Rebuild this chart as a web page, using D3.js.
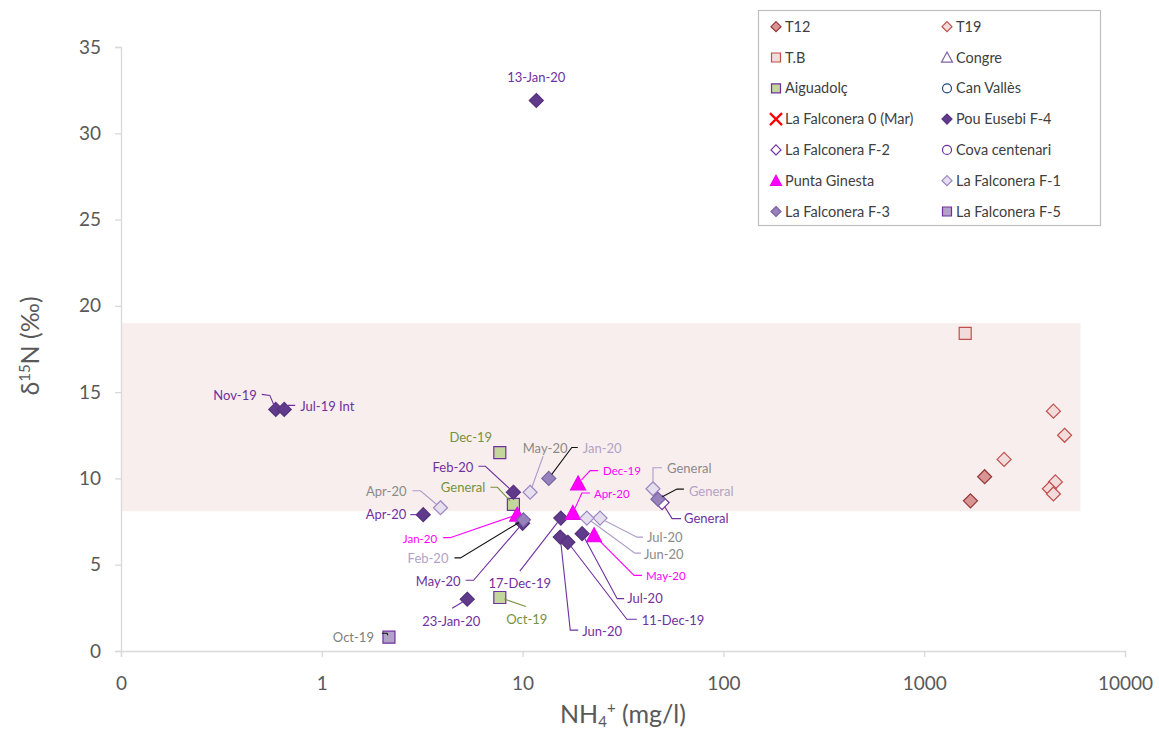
<!DOCTYPE html>
<html><head><meta charset="utf-8">
<script src="https://cdn.jsdelivr.net/npm/d3@7/dist/d3.min.js"></script>
<style>
body{margin:0;background:#fff}
svg text{font-family:Lato,"Open Sans","Liberation Sans",sans-serif}
</style>
</head><body>
<svg id="chart" width="1159" height="733"></svg>
<script>
// ---------- DATA ----------
const xTickValues = [0.1, 1, 10, 100, 1000, 10000];
const xTickLabels = ["0", "1", "10", "100", "1000", "10000"];
const yTickValues = [0, 5, 10, 15, 20, 25, 30, 35];

const bandX = [0.1, 6000];
const bandY = [8.1, 19];

const t12X = [1700, 2000];
const t12Y = [8.7, 10.1];

const t19X = [2500, 4400, 5000, 4500, 4200, 4400];
const t19Y = [11.1, 13.9, 12.5, 9.8, 9.4, 9.1];

const tbX = [1600];
const tbY = [18.4];

const aigX = [7.7, 9.0, 7.7];
const aigY = [11.5, 8.5, 3.1];
const aigLabels = ["Dec-19", "General", "Oct-19"];

const f4X = [11.7, 0.59, 0.65, 3.2, 9.0, 10.0, 5.3, 15.5, 15.4, 16.8, 19.8];
const f4Y = [31.9, 14.0, 14.0, 7.9, 9.2, 7.4, 3.0, 7.7, 6.6, 6.3, 6.8];
const f4Labels = ["13-Jan-20", "Nov-19", "Jul-19 Int", "Apr-20", "Feb-20", "May-20", "23-Jan-20", "17-Dec-19", "Jun-20", "11-Dec-19", "Jul-20"];

const f2X = [49.5];
const f2Y = [8.6];
const f2Labels = ["General"];

const pgX = [9.4, 18.9, 17.8, 22.7];
const pgY = [7.9, 9.7, 8.0, 6.7];
const pgLabels = ["Jan-20", "Dec-19", "Apr-20", "May-20"];

const f1X = [3.9, 10.9, 44.6, 24.3, 20.9];
const f1Y = [8.3, 9.2, 9.4, 7.7, 7.7];
const f1Labels = ["Apr-20", "May-20", "General", "Jul-20", "Jun-20"];

const f3X = [13.5, 10.1, 47.2];
const f3Y = [10.0, 7.6, 8.8];
const f3Labels = ["Jan-20", "Feb-20", "General"];

const f5X = [2.16];
const f5Y = [0.8];
const f5Labels = ["Oct-19"];

const legendNames = ["T12", "T19", "T.B", "Congre", "Aiguadolç", "Can Vallès",
  "La Falconera 0 (Mar)", "Pou Eusebi F-4", "La Falconera F-2", "Cova centenari",
  "Punta Ginesta", "La Falconera F-1", "La Falconera F-3", "La Falconera F-5"];

// ---------- STYLE / LAYOUT ----------
const styles = {
  "T12": {shape: "diamond", fill: "#d99594", stroke: "#953735"},
  "T19": {shape: "diamond", fill: "#f2dcdb", stroke: "#c0504d"},
  "T.B": {shape: "square", fill: "#f2dcdb", stroke: "#c0504d"},
  "Congre": {shape: "triangle", fill: "#ffffff", stroke: "#8064a2"},
  "Aiguadolç": {shape: "square", fill: "#c3d69b", stroke: "#7030a0"},
  "Can Vallès": {shape: "circle", fill: "#ffffff", stroke: "#1f497d"},
  "La Falconera 0 (Mar)": {shape: "x", fill: "none", stroke: "#ff0000"},
  "Pou Eusebi F-4": {shape: "diamond", fill: "#603b8b", stroke: "#55317e"},
  "La Falconera F-2": {shape: "diamond", fill: "#ffffff", stroke: "#7030a0"},
  "Cova centenari": {shape: "circle", fill: "#ffffff", stroke: "#7030a0"},
  "Punta Ginesta": {shape: "triangle", fill: "#ff00ff", stroke: "#ee00ee"},
  "La Falconera F-1": {shape: "diamond", fill: "#e6dff0", stroke: "#9c86c0"},
  "La Falconera F-3": {shape: "diamond", fill: "#9882bb", stroke: "#7b62a3"},
  "La Falconera F-5": {shape: "square", fill: "#b3a2c7", stroke: "#7030a0"}
};

const series = [
  {name: "T12", x: t12X, y: t12Y},
  {name: "T19", x: t19X, y: t19Y},
  {name: "T.B", x: tbX, y: tbY},
  {name: "Congre", x: [], y: []},
  {name: "Aiguadolç", x: aigX, y: aigY, labels: aigLabels, labelColor: "#76923c", lineColor: "#76923c", fs: 13},
  {name: "Can Vallès", x: [], y: []},
  {name: "La Falconera 0 (Mar)", x: [], y: []},
  {name: "Pou Eusebi F-4", x: f4X, y: f4Y, labels: f4Labels, labelColor: "#7030a0", lineColor: "#7030a0", fs: 13},
  {name: "La Falconera F-2", x: f2X, y: f2Y, labels: f2Labels, labelColor: "#7030a0", lineColor: "#7030a0", fs: 13},
  {name: "Cova centenari", x: [], y: []},
  {name: "Punta Ginesta", x: pgX, y: pgY, labels: pgLabels, labelColor: "#ff00ff", lineColor: "#ff00ff", fs: 11.5},
  {name: "La Falconera F-1", x: f1X, y: f1Y, labels: f1Labels, labelColor: "#8a8a8a", lineColor: "#ad9cc9", fs: 13},
  {name: "La Falconera F-3", x: f3X, y: f3Y, labels: f3Labels, labelColor: "#b3a2c7", lineColor: "#111111", fs: 13},
  {name: "La Falconera F-5", x: f5X, y: f5Y, labels: f5Labels, labelColor: "#808080", lineColor: "#111111", fs: 13}
];

// label placement (pixel offsets relative to the marker)
const labelLayout = {
  "Aiguadolç": [
    {dx: -29, dy: -15, a: "middle", l: []},
    {dx: -28, dy: -17, a: "end", l: [[-16, -17], [-23, -17]]},
    {dx: 27, dy: 22, a: "middle", l: [[26, 9]]}
  ],
  "Pou Eusebi F-4": [
    {dx: 0, dy: -23, a: "middle", l: []},
    {dx: -19, dy: -14, a: "end", l: [[-6, -14], [-14, -15]]},
    {dx: 16, dy: -3, a: "start", l: [[4, -4], [11, -4]]},
    {dx: -17, dy: 0, a: "end", l: [[-6, 0], [-13, 0]]},
    {dx: -40, dy: -25, a: "end", l: [[-28, -26], [-35, -26]]},
    {dx: -62, dy: 58, a: "end", l: [[-49, 57], [-57, 57]]},
    {dx: -16, dy: 22, a: "middle", l: [[-15, 9]]},
    {dx: -41, dy: 65, a: "middle", l: [[-41, 53]]},
    {dx: 22, dy: 94, a: "start", l: [[10, 93], [18, 93]]},
    {dx: 74, dy: 78, a: "start", l: [[59, 77], [69, 77]]},
    {dx: 45, dy: 65, a: "start", l: [[35, 65], [42, 65]]}
  ],
  "La Falconera F-2": [
    {dx: 22, dy: 16, a: "start", l: [[10, 16], [19, 16]]}
  ],
  "Punta Ginesta": [
    {dx: -80, dy: 24, a: "end", l: [[-67, 23], [-74, 23]]},
    {dx: 25, dy: -13, a: "start", l: [[12, -13], [20, -13]]},
    {dx: 21, dy: -19, a: "start", l: [[9, -20], [17, -20]]},
    {dx: 52, dy: 41, a: "start", l: [[40, 40], [48, 40]]}
  ],
  "La Falconera F-1": [
    {dx: -34, dy: -16, a: "end", l: [[-20, -17], [-28, -17]]},
    {dx: 15, dy: -44, a: "middle", l: [[13, -36]]},
    {dx: 14, dy: -20, a: "start", l: [[0, -21], [9, -21]]},
    {dx: 47, dy: 19, a: "start", l: [[37, 19], [43, 19]]},
    {dx: 57, dy: 36, a: "start", l: [[48, 35], [54, 35]]}
  ],
  "La Falconera F-3": [
    {dx: 34, dy: -30, a: "start", l: [[23, -31], [29, -31]]},
    {dx: -75, dy: 39, a: "end", l: [[-63, 38], [-69, 38]]},
    {dx: 31, dy: -8, a: "start", l: [[19, -10], [26, -10]]}
  ],
  "La Falconera F-5": [
    {dx: -15, dy: 0, a: "end", l: [[-2, -4], [-7, -4]]}
  ]
};

// ---------- DRAW ----------
const svg = d3.select("#chart");
const x = d3.scaleLog().domain([0.1, 10000]).range([121, 1125]);
const y = d3.scaleLinear().domain([0, 35]).range([651, 47]);

function shapePath(shape, s) {
  if (shape === "diamond") return `M0,${-s}L${s},0L0,${s}L${-s},0Z`;
  if (shape === "square") return `M${-s},${-s}H${s}V${s}H${-s}Z`;
  if (shape === "triangle") return `M0,${-s}L${s},${s*0.85}L${-s},${s*0.85}Z`;
  if (shape === "circle") return d3.arc()({innerRadius: 0, outerRadius: s, startAngle: 0, endAngle: 2 * Math.PI});
  if (shape === "x") return `M${-s},${-s}L${s},${s}M${s},${-s}L${-s},${s}`;
}
const markerSize = {diamond: 7, square: 6, triangle: 7.5, circle: 5, x: 6};
const legendSize = {diamond: 5, square: 4.5, triangle: 5.5, circle: 4.5, x: 6};

// band
svg.append("rect")
  .attr("x", x(bandX[0])).attr("y", y(bandY[1]))
  .attr("width", x(bandX[1]) - x(bandX[0]))
  .attr("height", y(bandY[0]) - y(bandY[1]))
  .attr("fill", "#f8eeee");

// axes
const axisColor = "#d9d9d9";
const tickText = "#595959";
const yAxis = d3.axisLeft(y).tickValues(yTickValues).tickSize(6).tickPadding(14);
const gy = svg.append("g").attr("transform", `translate(${x(0.1)},0)`).call(yAxis);
gy.select(".domain").attr("stroke", axisColor).attr("stroke-width", 1.3);
gy.selectAll(".tick line").attr("stroke", axisColor).attr("stroke-width", 1.3);
gy.selectAll(".tick text").attr("fill", tickText).style("font-size", "19px");

const xAxis = d3.axisBottom(x).tickValues(xTickValues)
  .tickFormat((d, i) => xTickLabels[i]).tickSize(6).tickPadding(20);
const gx = svg.append("g").attr("transform", `translate(0,${y(0)})`).call(xAxis);
gx.select(".domain").attr("stroke", axisColor).attr("stroke-width", 1.3);
gx.selectAll(".tick line").attr("stroke", axisColor).attr("stroke-width", 1.3);
gx.selectAll(".tick text").attr("fill", tickText).style("font-size", "19px");

// axis titles
const xt = svg.append("text").attr("x", 623).attr("y", 723)
  .attr("text-anchor", "middle").attr("fill", tickText).style("font-size", "25px");
xt.append("tspan").text("NH");
xt.append("tspan").text("4").style("font-size", "15px").attr("dy", 4);
xt.append("tspan").text("+").style("font-size", "15px").attr("dy", -14);
xt.append("tspan").text(" (mg/l)").attr("dy", 10);

const yt = svg.append("text").attr("transform", "translate(39,346) rotate(-90)")
  .attr("text-anchor", "middle").attr("fill", tickText).style("font-size", "25px");
yt.append("tspan").text("δ");
yt.append("tspan").text("15").style("font-size", "15px").attr("dy", -9);
yt.append("tspan").text("N (‰)").attr("dy", 9);

// markers
const gm = svg.append("g");
series.forEach(s => {
  const st = styles[s.name];
  s.x.forEach((xv, i) => {
    gm.append("path")
      .attr("d", shapePath(st.shape, markerSize[st.shape]))
      .attr("transform", `translate(${x(xv)},${y(s.y[i])})`)
      .attr("fill", st.fill).attr("stroke", st.stroke).attr("stroke-width", 1.2);
  });
});

// labels with leader lines
const gl = svg.append("g");
series.forEach(s => {
  if (!s.labels) return;
  const lay = labelLayout[s.name];
  s.labels.forEach((t, i) => {
    const px = x(s.x[i]), py = y(s.y[i]);
    const L = lay[i];
    if (L.l.length) {
      const pts = [[px, py]].concat(L.l.map(o => [px + o[0], py + o[1]]));
      const [ax, ay] = pts[0], [bx, by] = pts[1];
      const d = Math.hypot(bx - ax, by - ay);
      const k = Math.min(5, d * 0.5) / d;
      pts[0] = [ax + (bx - ax) * k, ay + (by - ay) * k];
      gl.append("path")
        .attr("d", d3.line()(pts))
        .attr("fill", "none").attr("stroke", s.lineColor).attr("stroke-width", 1.1);
    }
    gl.append("text")
      .attr("x", px + L.dx).attr("y", py + L.dy).attr("dy", "0.35em")
      .attr("text-anchor", L.a).attr("fill", s.labelColor)
      .style("font-size", s.fs + "px").text(t);
  });
});

// legend
const lg = svg.append("g");
lg.append("rect").attr("x", 758.5).attr("y", 10.5).attr("width", 342).attr("height", 215)
  .attr("fill", "#fff").attr("stroke", "#bfbfbf").attr("stroke-width", 1.2);
legendNames.forEach((n, i) => {
  const col = i % 2, row = Math.floor(i / 2);
  const mx = col === 0 ? 776 : 947;
  const my = 26.7 + row * 30.8;
  const st = styles[n];
  lg.append("path").attr("d", shapePath(st.shape, legendSize[st.shape]))
    .attr("transform", `translate(${mx},${my})`)
    .attr("fill", st.fill).attr("stroke", st.stroke)
    .attr("stroke-width", st.shape === "x" ? 2.2 : 1.2);
  lg.append("text").attr("x", mx + 9).attr("y", my).attr("dy", "0.35em")
    .attr("fill", "#404040").style("font-size", "14.5px").text(n);
});
</script>
</body></html>
